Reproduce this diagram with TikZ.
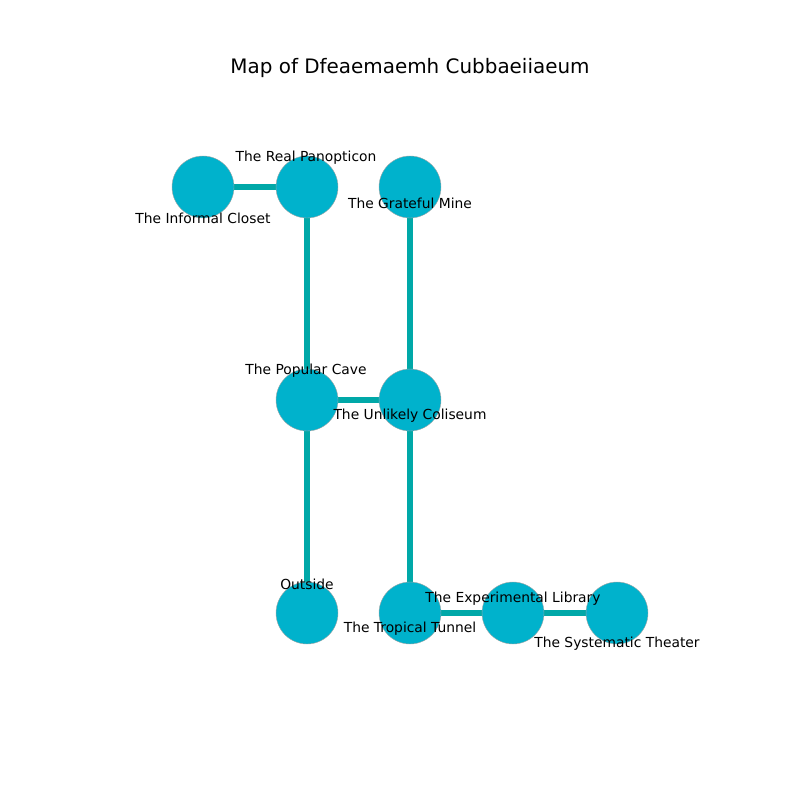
\documentclass[tikz,border=0pt]{standalone}
\usepackage{fontspec}
\setmainfont{DejaVu Sans}
\usetikzlibrary{backgrounds}
\begin{document}
\begin{tikzpicture}[x=0.0254cm, y=-0.0254cm,
                        place/.style={
                            circle,
                            draw=gray!70,
                            line width=0.3pt,
                            fill=placefill,
                            minimum size=1.575cm,
                            inner sep=0pt
                        },
                        passage/.style={
                            draw=passagecolor,
                            line width=3.9pt
                        },
                        placelabel/.style={
                            font=\fontsize{10}{12}\selectfont,
                            inner sep=0pt
                        }
                    ]
                    \definecolor{placefill}{HTML}{00B2CC}
                    \definecolor{passagecolor}{HTML}{00A8A8}

                    % Canvas
                    \useasboundingbox (0,0) rectangle (800,800);

                    % Title
                    \node[font=\fontsize{14.4}{17}\selectfont] (title) at (410,68) {Map of Dfeaemaemh Cubbaeiiaeum};

                    % Places
                    \node[place] (closet) at (203,187) {};
                    \node[place] (panopticon) at (307,187) {};
                    \node[place] (mine) at (410,187) {};
                    \node[place] (cave) at (307,400) {};
                    \node[place] (coliseum) at (410,400) {};
                    \node[place] (outside) at (307,613) {};
                    \node[place] (tunnel) at (410,613) {};
                    \node[place] (library) at (513,613) {};
                    \node[place] (theater) at (617,613) {};

                    % Passages (behind the places)
                    \begin{scope}[on background layer]
                        \draw[passage] (closet) -- (panopticon);
                        \draw[passage] (panopticon) -- (cave);
                        \draw[passage] (mine) -- (coliseum);
                        \draw[passage] (cave) -- (coliseum);
                        \draw[passage] (cave) -- (outside);
                        \draw[passage] (coliseum) -- (tunnel);
                        \draw[passage] (tunnel) -- (library);
                        \draw[passage] (library) -- (theater);
                    \end{scope}

                    % Labels
                    \node[placelabel] (closetlabel) at (203,218) {The Informal Closet};
                    \node[placelabel] (panopticonlabel) at (306,158) {The Real Panopticon};
                    \node[placelabel] (minelabel) at (410,203) {The Grateful Mine};
                    \node[placelabel] (cavelabel) at (306,371) {The Popular Cave};
                    \node[placelabel] (coliseumlabel) at (410,416) {The Unlikely Coliseum};
                    \node[placelabel] (outsidelabel) at (307,584) {Outside};
                    \node[placelabel] (tunnellabel) at (410,629) {The Tropical Tunnel};
                    \node[placelabel] (librarylabel) at (513,599) {The Experimental Library};
                    \node[placelabel] (theaterlabel) at (617,644) {The Systematic Theater};
\end{tikzpicture}
\end{document}
